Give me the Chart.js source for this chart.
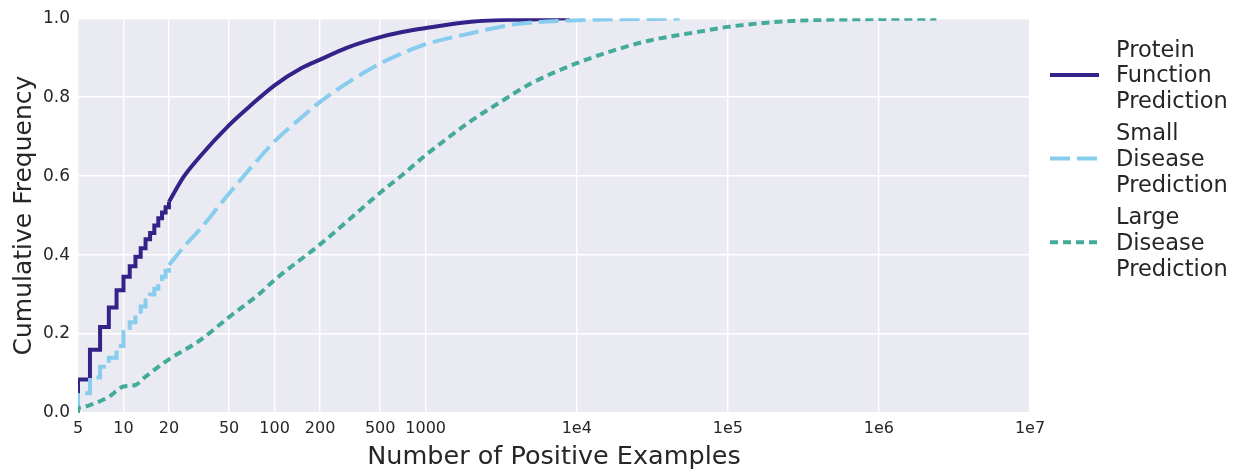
<!DOCTYPE html>
<html>
<head>
<meta charset="utf-8">
<script src="https://cdn.jsdelivr.net/npm/chart.js@4.4.1/dist/chart.umd.min.js"></script>
<style>
  html, body { margin: 0; padding: 0; background: #ffffff; }
</style>
</head>
<body>
<canvas id="cdf" width="1233" height="470"></canvas>
<script>
// ---- values ----
const xTickValues = [5, 10, 20, 50, 100, 200, 500, 1000, 1e4, 1e5, 1e6, 1e7];
const xTickLabels = ['5', '10', '20', '50', '100', '200', '500', '1000', '1e4', '1e5', '1e6', '1e7'];
const yTickValues = [0, 0.2, 0.4, 0.6, 0.8, 1.0];

const seriesNames = [
    ['Protein', 'Function', 'Prediction'],
    ['Small', 'Disease', 'Prediction'],
    ['Large', 'Disease', 'Prediction']
];

// Protein function prediction: integer steps first, then the smooth tail
const proteinStepX = [5, 5, 6, 7, 8, 9, 10, 11, 12, 13, 14, 15, 16, 17, 18, 19, 20];
const proteinStepY = [0, 0.085, 0.16, 0.218, 0.267, 0.311, 0.345, 0.372, 0.396, 0.417, 0.44, 0.456, 0.475, 0.493, 0.508, 0.521, 0.535];
const proteinX = [20, 25, 32, 50, 70, 100, 150, 200, 300, 500, 700, 1000, 2000, 5000, 9000];
const proteinY = [0.535, 0.598, 0.649, 0.729, 0.78, 0.83, 0.873, 0.895, 0.925, 0.952, 0.965, 0.975, 0.991, 0.997, 1.0];

// Small disease prediction
const smallStepX = [5, 5, 6, 7, 8, 9, 10, 11, 12, 13, 14, 15, 16, 17, 18, 19, 20];
const smallStepY = [0, 0.05, 0.09, 0.117, 0.14, 0.17, 0.205, 0.23, 0.25, 0.27, 0.285, 0.30, 0.315, 0.33, 0.345, 0.36, 0.375];
const smallX = [20, 25, 32, 50, 70, 100, 150, 200, 300, 500, 700, 1000, 2000, 4000, 10000, 48000];
const smallY = [0.375, 0.42, 0.465, 0.556, 0.622, 0.688, 0.748, 0.788, 0.835, 0.885, 0.911, 0.934, 0.962, 0.985, 0.995, 0.999];

// Large disease prediction
const largeX = [5, 5, 6, 8, 10, 12, 14, 20, 31, 50, 80, 100, 200, 500, 700, 1000, 2000, 3100, 5000, 10000, 20000, 30000, 65000, 1e5, 2e5, 3e5, 1e6, 2.4e6];
const largeY = [0, 0.013, 0.02, 0.041, 0.067, 0.071, 0.092, 0.136, 0.18, 0.243, 0.303, 0.337, 0.427, 0.558, 0.603, 0.653, 0.74, 0.787, 0.835, 0.886, 0.925, 0.943, 0.966, 0.978, 0.99, 0.994, 0.998, 0.999];

const COLORS = { protein: '#332288', small: '#88CCEE', large: '#44AA99' };
const TEXT = '#262626';

Chart.defaults.font.family = "'DejaVu Sans', sans-serif";
Chart.defaults.color = TEXT;

function toPoints(xs, ys) {
    return xs.map((x, i) => ({ x: x, y: ys[i] }));
}

// grey seaborn-style plot background
const plotBackground = {
    id: 'plotBackground',
    beforeDraw(chart) {
        const { ctx, chartArea: a } = chart;
        ctx.save();
        ctx.fillStyle = '#EAEAF2';
        ctx.fillRect(a.left, a.top, a.right - a.left, a.bottom - a.top);
        ctx.restore();
    }
};

// legend to the right with three-line labels
const sideLegend = {
    id: 'sideLegend',
    afterDraw(chart) {
        const ctx = chart.ctx;
        const lineX0 = chart.chartArea.right + 20;
        const lineX1 = lineX0 + 49;
        const textX = lineX0 + 66;
        const firstBaseline = 56.7;
        const lineStep = 25.7;
        const groupStep = 83.7;

        ctx.save();
        ctx.font = "22.5px 'DejaVu Sans'";
        ctx.fillStyle = TEXT;
        ctx.textAlign = 'left';
        ctx.textBaseline = 'alphabetic';

        seriesNames.forEach((lines, g) => {
            const ds = chart.data.datasets.find(d => d.legendIndex === g);
            const base = firstBaseline + g * groupStep;
            lines.forEach((txt, k) => ctx.fillText(txt, textX, base + k * lineStep));

            const sampleY = base + lineStep - 7.5;
            ctx.beginPath();
            ctx.strokeStyle = ds.borderColor;
            ctx.lineWidth = ds.borderWidth;
            ctx.setLineDash(ds.borderDash || []);
            ctx.lineCap = 'butt';
            ctx.moveTo(lineX0, sampleY);
            ctx.lineTo(lineX1, sampleY);
            ctx.stroke();
        });
        ctx.restore();
    }
};

const lineStyle = (color, dash) => ({
    borderColor: color,
    backgroundColor: color,
    borderWidth: 4,
    borderDash: dash,
    borderCapStyle: 'butt',
    pointRadius: 0,
    fill: false
});

new Chart(document.getElementById('cdf'), {
    type: 'line',
    data: {
        datasets: [
            Object.assign({ label: 'Large Disease Prediction', legendIndex: 2, data: toPoints(largeX, largeY),
                cubicInterpolationMode: 'monotone' }, lineStyle(COLORS.large, [8, 5])),
            Object.assign({ label: 'Small Disease Prediction', legendIndex: 1, data: toPoints(smallX, smallY),
                cubicInterpolationMode: 'monotone' }, lineStyle(COLORS.small, [20, 7])),
            Object.assign({ label: 'Protein Function Prediction', legendIndex: 0, data: toPoints(proteinX, proteinY),
                cubicInterpolationMode: 'monotone' }, lineStyle(COLORS.protein, [])),
            Object.assign({ label: 'Small Disease Prediction (steps)', data: toPoints(smallStepX, smallStepY),
                stepped: 'before' }, lineStyle(COLORS.small, [20, 7])),
            Object.assign({ label: 'Protein Function Prediction (steps)', data: toPoints(proteinStepX, proteinStepY),
                stepped: 'before' }, lineStyle(COLORS.protein, []))
        ]
    },
    options: {
        responsive: false,
        animation: false,
        layout: { padding: { top: 18, right: 203, left: 0, bottom: 0 } },
        plugins: {
            legend: { display: false },
            tooltip: { enabled: false }
        },
        scales: {
            x: {
                type: 'logarithmic',
                min: 5,
                max: 1e7,
                afterFit: (scale) => { scale.height = 57; },
                afterBuildTicks: (scale) => {
                    scale.ticks = xTickValues.map(v => ({ value: v }));
                },
                ticks: {
                    autoSkip: false,
                    maxRotation: 0,
                    padding: 6,
                    font: { size: 16 },
                    color: TEXT,
                    callback: (value) => {
                        const i = xTickValues.indexOf(value);
                        return i >= 0 ? xTickLabels[i] : '';
                    }
                },
                grid: { color: '#ffffff', lineWidth: 1.4, drawTicks: false },
                border: { display: false },
                title: {
                    display: true,
                    text: 'Number of Positive Examples',
                    font: { size: 25.5, lineHeight: 1.0 },
                    color: TEXT,
                    padding: { top: 0, bottom: 0 }
                }
            },
            y: {
                min: 0,
                max: 1,
                afterFit: (scale) => { scale.width = 78; },
                afterBuildTicks: (scale) => {
                    scale.ticks = yTickValues.map(v => ({ value: v }));
                },
                ticks: {
                    padding: 8,
                    font: { size: 17 },
                    color: TEXT,
                    callback: (value) => value.toFixed(1)
                },
                grid: { color: '#ffffff', lineWidth: 1.4, drawTicks: false },
                border: { display: false },
                title: {
                    display: true,
                    text: 'Cumulative Frequency',
                    font: { size: 25, lineHeight: 1.0 },
                    color: TEXT,
                    padding: { top: 12, bottom: 0 }
                }
            }
        }
    },
    plugins: [plotBackground, sideLegend]
});
</script>
</body>
</html>
